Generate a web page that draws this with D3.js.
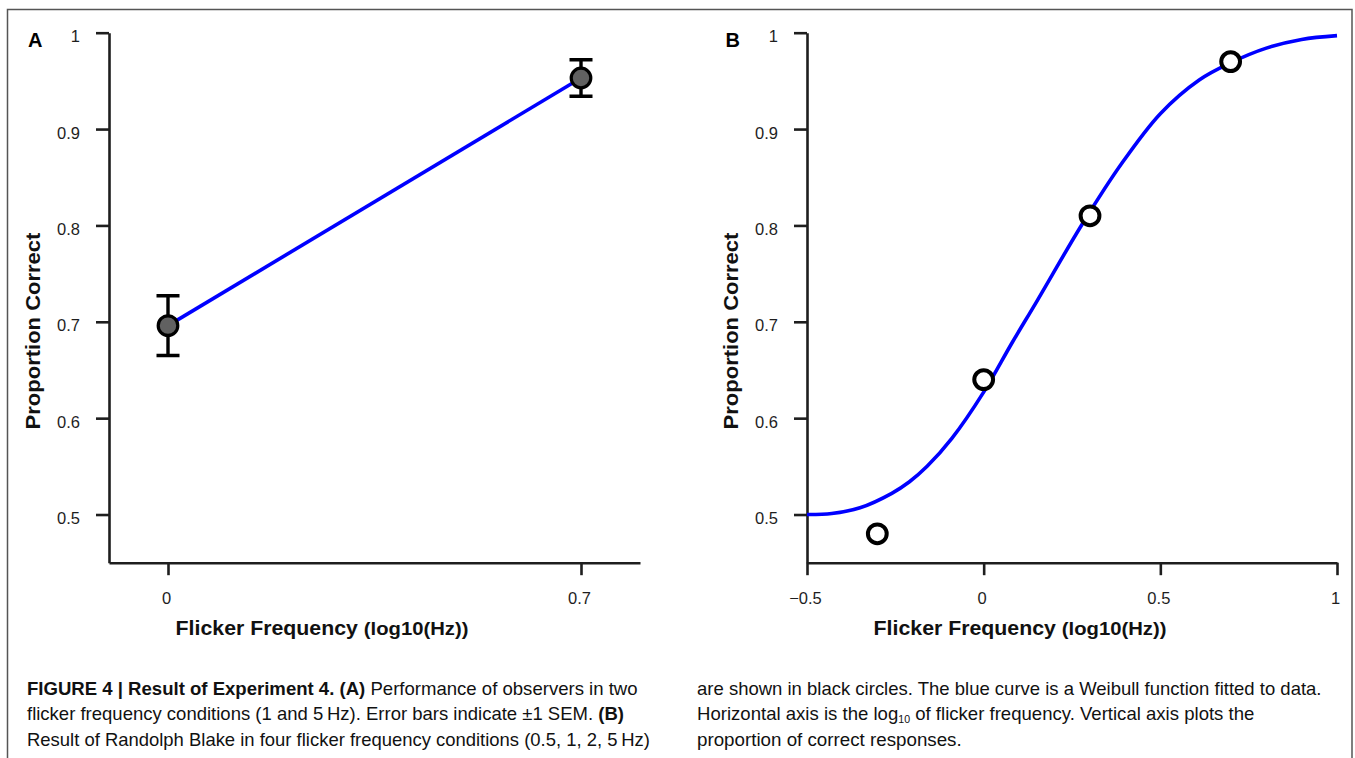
<!DOCTYPE html>
<html>
<head>
<meta charset="utf-8">
<script src="https://cdn.jsdelivr.net/npm/d3@7"></script>
<style>
  html, body { margin: 0; padding: 0; background: #fff; }
  svg { display: block; font-family: "Liberation Sans", Arial, Helvetica, sans-serif; }
</style>
</head>
<body>
<svg id="fig" width="1355" height="758"></svg>
<script>
// Panel A: observers, 1 and 5 Hz (log10 Hz), mean +/- 1 SEM
const freqA = [0, 0.7];
const meanA = [0.696, 0.953];
const semA = [0.031, 0.019];
const xTicksA = [0, 0.7];

// Panel B: Randolph Blake, 0.5, 1, 2, 5 Hz
const freqB = [-0.301, 0, 0.301, 0.699];
const propB = [0.48, 0.64, 0.81, 0.97];
const xTicksB = [-0.5, 0, 0.5, 1];

// Weibull fit as drawn in the figure
const fitX = [-0.5, -0.43, -0.35, -0.26, -0.21, -0.16, -0.09, 0, 0.08, 0.15, 0.28, 0.39, 0.5, 0.61, 0.7, 0.8, 0.9, 1];
const fitY = [0.5, 0.501, 0.507, 0.522, 0.534, 0.550, 0.579, 0.627, 0.678, 0.721, 0.802, 0.864, 0.916, 0.951, 0.969, 0.984, 0.993, 0.997];

const yTicks = [0.5, 0.6, 0.7, 0.8, 0.9, 1];
const yDomain = [0.45, 1];

const captionLeft = [
  [['FIGURE 4 | Result of Experiment 4. (A)', true], [' Performance of observers in two', false]],
  [['flicker frequency conditions (1 and 5\u2009Hz). Error bars indicate \u00b11 SEM. ', false], ['(B)', true]],
  [['Result of Randolph Blake in four flicker frequency conditions (0.5, 1, 2, 5\u2009Hz)', false]],
];
const captionRight = [
  [['are shown in black circles. The blue curve is a Weibull function fitted to data.', false]],
  [['Horizontal axis is the log', false], ['10', false, true], [' of flicker frequency. Vertical axis plots the', false]],
  [['proportion of correct responses.', false]],
];

const INK = '#1e1e1e';
const BLUE = '#0000ff';
const svg = d3.select('#fig');

// outer frame (bottom edge is cropped off)
svg.append('path')
  .attr('d', 'M7.5,758V9.5H1352V758')
  .attr('fill', 'none')
  .attr('stroke', '#555')
  .attr('stroke-width', 1.5);

// squeeze a text group horizontally so it spans `w` pixels
function fitText(g, w) {
  const t = g.select('text');
  const len = t.node().getComputedTextLength();
  t.attr('transform', `scale(${w / len},1)`);
}

function drawAxes(x, y, xTicks) {
  const fmt = d3.format('~g');
  const yAxis = svg.append('g')
    .attr('transform', `translate(${x.range()[0]},0)`)
    .call(d3.axisLeft(y).tickValues(yTicks).tickFormat(fmt)
      .tickSize(13).tickSizeOuter(0).tickPadding(16));
  const xAxis = svg.append('g')
    .attr('transform', `translate(0,${y.range()[0]})`)
    .call(d3.axisBottom(x).tickValues(xTicks).tickFormat(fmt)
      .tickSize(12.5).tickSizeOuter(0).tickPadding(17));

  [yAxis, xAxis].forEach((a) => {
    a.attr('font-family', null).attr('font-size', null);
    a.selectAll('path, line').attr('stroke', INK).attr('stroke-width', 2.6);
    a.selectAll('text').attr('fill', INK).style('font-size', '16.5px');
  });
  yAxis.selectAll('text').attr('dy', '0.55em');
  xAxis.selectAll('text').attr('dx', -2);
}

function drawLabels(letter, lx, ly, xTitleX, yTitleX) {
  svg.append('text')
    .attr('x', lx).attr('y', ly)
    .attr('font-weight', 'bold')
    .attr('font-size', 20)
    .attr('fill', '#000')
    .text(letter);

  const xt = svg.append('g').attr('transform', `translate(${xTitleX},635)`);
  const t = xt.append('text')
    .attr('text-anchor', 'middle')
    .attr('font-weight', 'bold')
    .attr('font-size', 20)
    .attr('fill', '#111');
  t.append('tspan').text('Flicker Frequency ');
  t.append('tspan').attr('font-size', 19).text('(log10(Hz))');
  fitText(xt, 293);

  const yt = svg.append('g').attr('transform', `translate(${yTitleX},331) rotate(-90)`);
  yt.append('text')
    .attr('text-anchor', 'middle')
    .attr('font-weight', 'bold')
    .attr('font-size', 20)
    .attr('fill', '#111')
    .text('Proportion Correct');
  fitText(yt, 197);
}

// ---- Panel A ----
const xA = d3.scaleLinear().domain([-0.1, 0.8]).range([109, 640]);
const yA = d3.scaleLinear().domain(yDomain).range([562.7, 32.7]);
drawAxes(xA, yA, xTicksA);
drawLabels('A', 28, 47, 322, 40);

const ptsA = freqA.map((f, i) => ({ x: f, y: meanA[i], e: semA[i] }));

svg.append('path')
  .datum(ptsA)
  .attr('fill', 'none')
  .attr('stroke', BLUE)
  .attr('stroke-width', 3.6)
  .attr('d', d3.line().x((d) => xA(d.x)).y((d) => yA(d.y)));

const errA = svg.append('g').attr('stroke', '#000').attr('stroke-width', 3.4).attr('fill', 'none');
errA.selectAll('path').data(ptsA).enter().append('path')
  .attr('d', (d) => {
    const cx = xA(d.x);
    const y0 = yA(d.y - d.e);
    const y1 = yA(d.y + d.e);
    return `M${cx},${y0}V${y1}M${cx - 11.5},${y1}H${cx + 11.5}M${cx - 11.5},${y0}H${cx + 11.5}`;
  });

svg.append('g').selectAll('circle').data(ptsA).enter().append('circle')
  .attr('cx', (d) => xA(d.x))
  .attr('cy', (d) => yA(d.y))
  .attr('r', 9.8)
  .attr('fill', '#616161')
  .attr('stroke', '#000')
  .attr('stroke-width', 3.2);

// ---- Panel B ----
const xB = d3.scaleLinear().domain([-0.5, 1]).range([807, 1337]);
const yB = d3.scaleLinear().domain(yDomain).range([562.7, 32.7]);
drawAxes(xB, yB, xTicksB);
drawLabels('B', 725.5, 46.5, 1020, 738);

svg.append('path')
  .datum(fitX.map((f, i) => [f, fitY[i]]))
  .attr('fill', 'none')
  .attr('stroke', BLUE)
  .attr('stroke-width', 3.6)
  .attr('d', d3.line().x((d) => xB(d[0])).y((d) => yB(d[1])).curve(d3.curveCatmullRom.alpha(0.5)));

svg.append('g').selectAll('circle').data(freqB.map((f, i) => [f, propB[i]])).enter()
  .append('circle')
  .attr('cx', (d) => xB(d[0]))
  .attr('cy', (d) => yB(d[1]))
  .attr('r', 9.4)
  .attr('fill', '#fff')
  .attr('stroke', '#000')
  .attr('stroke-width', 4);

// ---- Caption ----
function drawCaption(lines, x0, widths) {
  lines.forEach((parts, i) => {
    const g = svg.append('g').attr('transform', `translate(${x0},${695 + i * 25.3})`);
    const t = g.append('text')
      .attr('font-size', 17.5)
      .attr('fill', '#111');
    let shifted = false;
    parts.forEach(([str, bold, sub]) => {
      const ts = t.append('tspan').text(str);
      if (bold) ts.attr('font-weight', 'bold');
      if (sub) {
        ts.attr('font-size', 10).attr('dy', 3);
        shifted = true;
      } else if (shifted) {
        ts.attr('dy', -3);
        shifted = false;
      }
    });
    fitText(g, widths[i]);
  });
}

drawCaption(captionLeft, 27, [611, 597.5, 623.5]);
drawCaption(captionRight, 697, [625, 558, 265]);
</script>
</body>
</html>
